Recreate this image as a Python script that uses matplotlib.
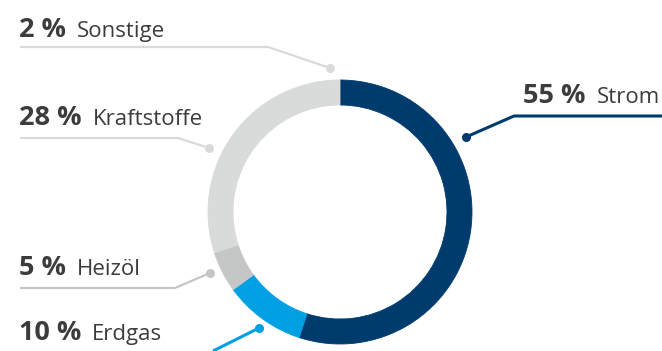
import matplotlib
matplotlib.use('Agg')
import matplotlib.pyplot as plt

# Energy share data (clockwise from 12 o'clock)
categories = ['Strom', 'Erdgas', 'Heizöl', 'Kraftstoffe', 'Sonstige']
shares = [55, 10, 5, 28, 2]
colors = ['#003b6e', '#00a0e2', '#c5c7c7', '#d9dbdb', '#d9dbdb']
line_colors = ['#003b6e', '#00a0e2', '#c5c7c7', '#d9dbdb', '#d9dbdb']

W, H = 662, 351
TEXT_COLOR = '#3c3c3c'
FAMILY = ['Open Sans', 'DejaVu Sans']


def fy(y):
    """Convert pixel row (top origin) to axis y."""
    return H - y


fig = plt.figure(figsize=(W / 100, H / 100), dpi=100)
ax = fig.add_axes([0, 0, 1, 1])
ax.set_xlim(0, W)
ax.set_ylim(0, H)
ax.set_aspect('equal')
ax.axis('off')

# Donut ring
wedges, _ = ax.pie(shares, colors=colors, startangle=90, counterclock=False,
                   radius=132, center=(340, fy(212)),
                   wedgeprops=dict(width=25, linewidth=0.6))
# edge in face colour hides the antialiasing seams
for w in wedges:
    w.set_edgecolor(w.get_facecolor())
ax.set_xlim(0, W)
ax.set_ylim(0, H)

# Label layout: (text x, baseline y, leader points ending at the dot)
layout = {
    'Strom': dict(x=523, y=103, pts=[(662, 116), (514, 116), (466, 137)]),
    'Erdgas': dict(x=19, y=340, pts=[(213, 351), (259, 328)]),
    'Heizöl': dict(x=19, y=275, pts=[(20, 288), (175, 288), (210, 273)]),
    'Kraftstoffe': dict(x=19, y=125, pts=[(20, 138), (178, 138), (209, 148)]),
    'Sonstige': dict(x=19, y=37, pts=[(20, 47), (268, 47), (330, 68)]),
}

fig.canvas.draw()
renderer = fig.canvas.get_renderer()

for name, share, lc in zip(categories, shares, line_colors):
    lay = layout[name]
    xs = [p[0] for p in lay['pts']]
    ys = [fy(p[1]) for p in lay['pts']]
    lw = 2.2 if name in ('Strom', 'Erdgas') else 1.6
    ax.plot(xs, ys, color=lc, lw=lw, solid_capstyle='butt', zorder=3)
    ax.plot(xs[-1], ys[-1], 'o', color=lc, ms=6.5, mec='none', zorder=4)

    t = ax.text(lay['x'], fy(lay['y']), f'{share} %', fontsize=19.5,
                fontweight='bold', color=TEXT_COLOR, family=FAMILY,
                va='baseline', ha='left')
    bb = t.get_window_extent(renderer=renderer)
    ax.text(bb.x1 + 11, fy(lay['y']), name, fontsize=16,
            color=TEXT_COLOR, family=FAMILY, va='baseline', ha='left')

fig.savefig('out.png', dpi=100, facecolor='white')
